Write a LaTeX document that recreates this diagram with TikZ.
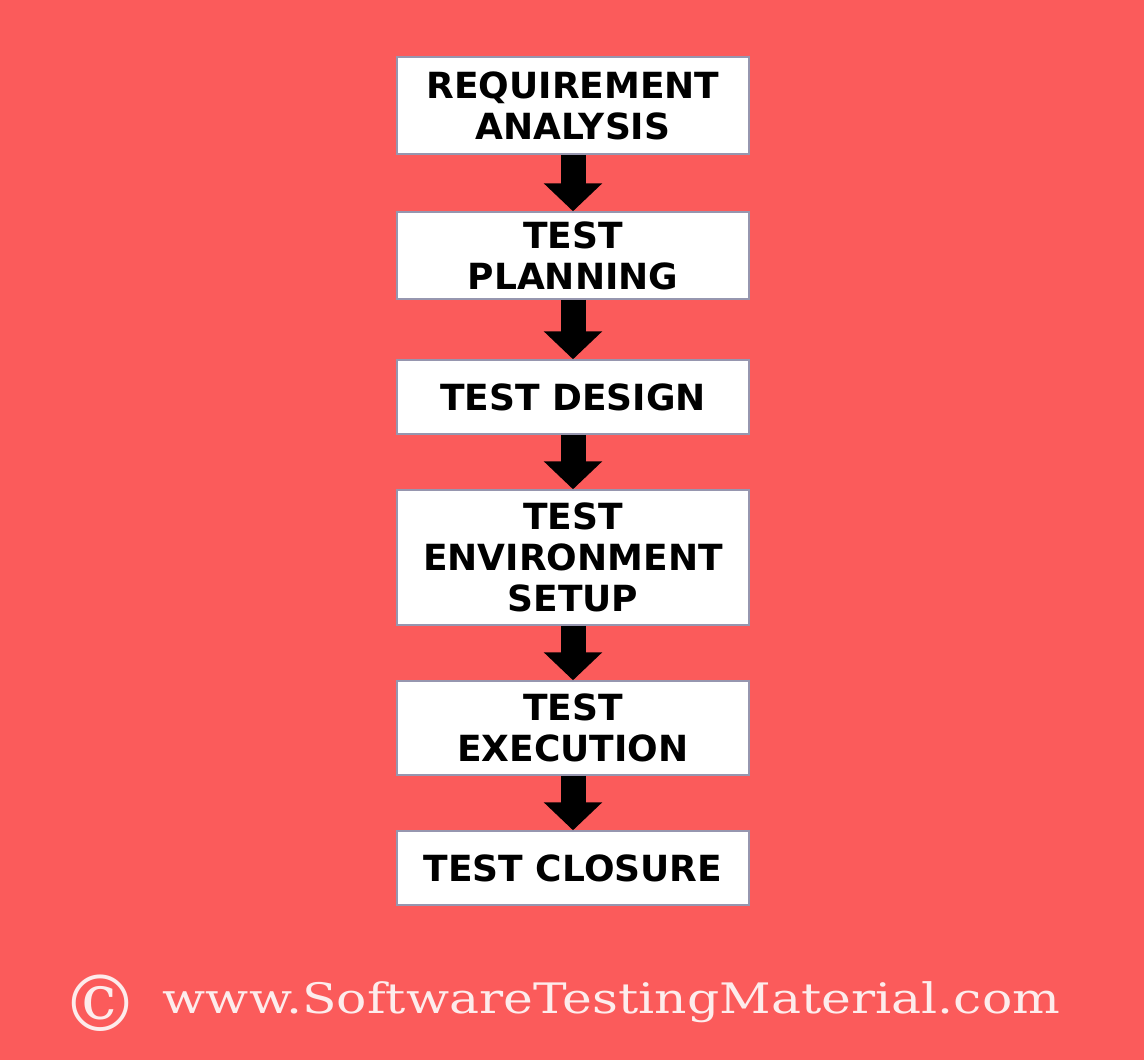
\documentclass[tikz,border=0pt]{standalone}
\usepackage{fontspec}
\setmainfont{DejaVu Sans}
\newfontfamily\footfont[FakeStretch=1.2]{DejaVu Serif}
\newfontfamily\copyfont{DejaVu Serif}
\usetikzlibrary{arrows.meta}
\definecolor{bg}{RGB}{251,91,91}
\definecolor{boxline}{RGB}{150,150,175}
\definecolor{foot}{RGB}{253,236,236}
\begin{document}
\begin{tikzpicture}[x=1pt,y=-1pt,
  stage/.style={draw=boxline, line width=1.5pt, fill=white, minimum width=352pt,
    inner sep=0pt, align=center, font=\fontsize{36}{41}\selectfont\bfseries, text=black},
  flow/.style={line width=25pt, draw=black, -{Triangle[width=57pt,length=28pt]}}]
\fill[bg] (0,0) rectangle (1144,1060);
\useasboundingbox (0,0) rectangle (1144,1060);
\node[stage, minimum height=97pt]  (s1) at (573,105.5) {REQUIREMENT\\ANALYSIS};
\node[stage, minimum height=87pt]  (s2) at (573,255.5) {TEST\\PLANNING};
\node[stage, minimum height=74pt]  (s3) at (573,397)   {TEST DESIGN};
\node[stage, minimum height=135pt] (s4) at (573,557.5) {TEST\\ENVIRONMENT\\SETUP};
\node[stage, minimum height=94pt]  (s5) at (573,728)   {TEST\\EXECUTION};
\node[stage, minimum height=74pt]  (s6) at (573,868)   {TEST CLOSURE};
\draw[flow] (s1.south) -- (s2.north);
\draw[flow] (s2.south) -- (s3.north);
\draw[flow] (s3.south) -- (s4.north);
\draw[flow] (s4.south) -- (s5.north);
\draw[flow] (s5.south) -- (s6.north);
\node[text=foot, font=\copyfont\fontsize{78}{80}\selectfont, inner sep=0pt] (copy) at (100,1003) {©};
\node[text=foot, font=\footfont\fontsize{42}{46}\selectfont, anchor=base, inner sep=0pt] (url) at (611.5,1013) {www.SoftwareTestingMaterial.com};
\end{tikzpicture}
\end{document}
